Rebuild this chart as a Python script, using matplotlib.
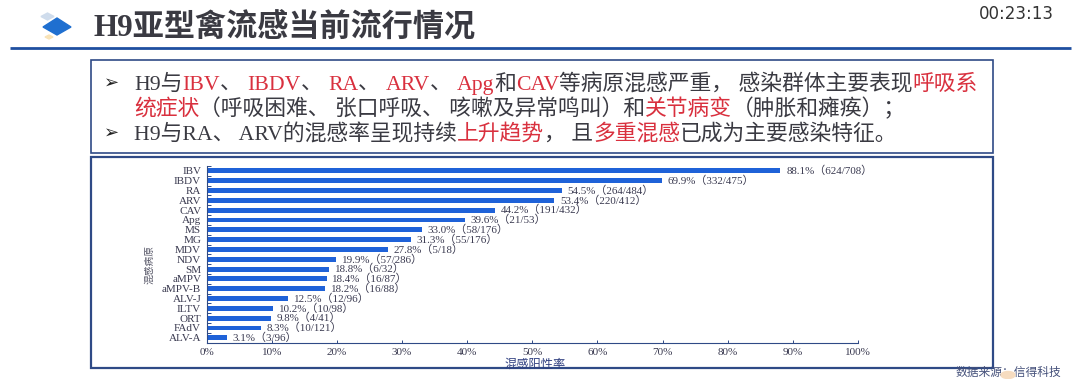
# coding: utf-8
import matplotlib
matplotlib.use("Agg")
import matplotlib.pyplot as plt
from matplotlib.patches import Rectangle, Polygon, Ellipse

plt.rcParams['font.family'] = ['Noto Sans CJK SC', 'DejaVu Sans']
SERIF = ['Liberation Serif', 'Noto Sans CJK SC']

pathogens = ["IBV", "IBDV", "RA", "ARV", "CAV", "Apg", "MS", "MG", "MDV", "NDV", "SM",
             "aMPV", "aMPV-B", "ALV-J", "ILTV", "ORT", "FAdV", "ALV-A"]
rates = [88.1, 69.9, 54.5, 53.4, 44.2, 39.6, 33.0, 31.3, 27.8, 19.9, 18.8,
         18.4, 18.2, 12.5, 10.2, 9.8, 8.3, 3.1]
counts = ["624/708", "332/475", "264/484", "220/412", "191/432", "21/53", "58/176", "55/176", "5/18",
          "57/286", "6/32", "16/87", "16/88", "12/96", "10/98", "4/41", "10/121", "3/96"]
xticks = [0, 10, 20, 30, 40, 50, 60, 70, 80, 90, 100]

W, H = 1080, 379
RED = "#d9303e"
DARK = "#3a3a42"
NAVY = "#2f4a86"
LABEL = "#3a3a50"

fig = plt.figure(figsize=(W / 100, H / 100), dpi=100, facecolor="white")

# slide layer in pixel coordinates
bg = fig.add_axes([0, 0, 1, 1])
bg.set_xlim(0, W)
bg.set_ylim(H, 0)
bg.axis("off")

bg.add_patch(Polygon([(43, 27), (57, 18), (71, 27), (57, 35)], color="#1f6fd0"))
bg.add_patch(Polygon([(41, 16.5), (47.5, 13), (54, 16.5), (47.5, 20)], color="#cfdcec"))
bg.add_patch(Polygon([(45, 37), (49, 35), (53, 37), (49, 39)], color="#f8e3b8"))
bg.text(93, 27.5, "H9亚型禽流感当前流行情况", fontsize=22.4, fontweight="bold", color=DARK,
        va="center", family=SERIF)
bg.text(1016.5, 14, "00:23:13", fontsize=12, color="#333333", ha="center", va="center",
        family=['DejaVu Sans'])
bg.plot([10, 1071], [47.5, 47.5], color="#1f4fa0", lw=2.0, solid_capstyle="butt")

bg.add_patch(Rectangle((91, 60), 902, 92.5, fc="white", ec=NAVY, lw=1.2))
bg.add_patch(Rectangle((91, 157), 902, 210.5, fc="white", ec=NAVY, lw=1.6))


def runs(y, x0, parts, size=15.7):
    # draw coloured pieces one after the other, on a shared baseline
    x = x0
    for txt, col in parts:
        t = bg.text(x, y, txt, fontsize=size, color=col, va="baseline", family=SERIF)
        box = t.get_window_extent(fig.canvas.get_renderer())
        x += box.width


bg.text(104, 83, "➢", fontsize=13, color="#222222", va="center", ha="left", family=['DejaVu Sans'])
bg.text(104, 133, "➢", fontsize=13, color="#222222", va="center", ha="left", family=['DejaVu Sans'])
runs(90, 134, [("H9与", DARK), ("IBV", RED), ("、 ", DARK), ("IBDV", RED), ("、 ", DARK), ("RA", RED),
               ("、 ", DARK), ("ARV", RED), ("、 ", DARK), ("Apg", RED), ("和", DARK), ("CAV", RED),
               ("等病原混感严重， 感染群体主要表现", DARK), ("呼吸系", RED)])
runs(115, 134, [("统症状", RED), ("（呼吸困难、 张口呼吸、 咳嗽及异常鸣叫）和", DARK), ("关节病变", RED),
                ("（肿胀和瘫痪）；", DARK)])
runs(140, 134, [("H9与RA、 ARV的混感率呈现持续", DARK), ("上升趋势", RED), ("， 且", DARK),
                ("多重混感", RED), ("已成为主要感染特征。", DARK)])

bg.text(1008, 372.8, "数据来源：信得科技", fontsize=8.5, color="#44507a", ha="center", va="center")
bg.add_patch(Ellipse((1008, 375), 14, 7, color="#f6dcc0", zorder=5))

# chart
x0, x1 = 206.7, 858
y_top, y_bot = 166, 342.7
ax = fig.add_axes([x0 / W, 1 - y_bot / H, (x1 - x0) / W, (y_bot - y_top) / H])
ax.patch.set_alpha(0)
pos = list(range(len(pathogens)))
ax.barh(pos, rates, height=0.5, color="#1f62d8")
ax.set_ylim(17.5, -0.5)
ax.set_xlim(0, 100)
ax.set_yticks(pos)
ax.set_yticklabels(pathogens, fontsize=8, color=LABEL, family=SERIF)
ax.set_yticks([p - 0.5 for p in pos] + [17.5], minor=True)
ax.set_xticks(xticks)
ax.set_xticklabels(["%d%%" % v for v in xticks], fontsize=8, color=LABEL, family=SERIF)
ax.tick_params(axis="y", which="major", length=0, pad=4)
ax.tick_params(axis="y", which="minor", direction="in", length=3, width=0.7, color=NAVY)
ax.tick_params(axis="x", direction="in", length=2.5, width=0.7, color=NAVY, pad=4)
ax.spines["top"].set_visible(False)
ax.spines["right"].set_visible(False)
ax.spines["left"].set_color(NAVY)
ax.spines["bottom"].set_color(NAVY)
for i in pos:
    ax.text(rates[i] + 0.9, i, "%.1f%%（%s）" % (rates[i], counts[i]), fontsize=7.9, color=LABEL,
            va="center", family=SERIF)

bg.text(149, 264, "混感病原", fontsize=7, color="#555566", rotation=90, ha="center", va="center")
bg.text(535, 364, "混感阳性率", fontsize=8.8, color="#2f3f80", ha="center", va="center")

fig.savefig("out.png", dpi=100)
